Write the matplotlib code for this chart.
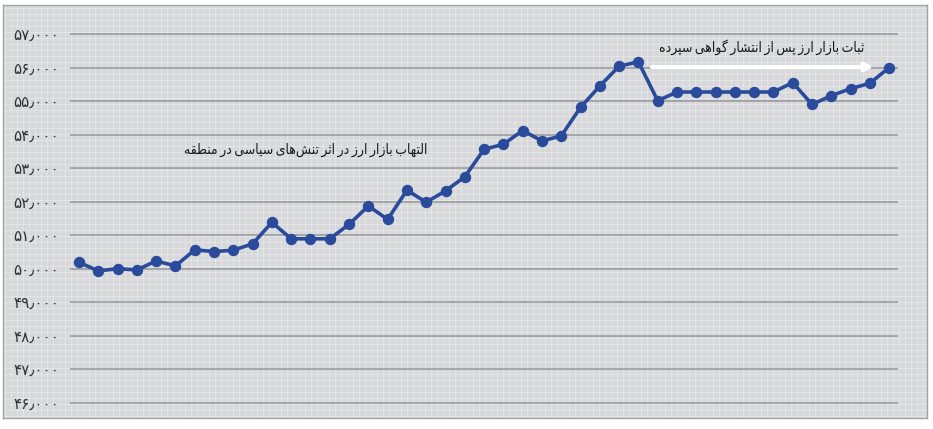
import matplotlib
matplotlib.use("Agg")
import matplotlib.pyplot as plt
import numpy as np

# ---------------- data ----------------
values = [50190, 49930, 50000, 49960, 50230, 50080, 50560, 50510, 50550, 50740,
          51380, 50890, 50890, 50890, 51320, 51870, 51470, 52340, 51980, 52320,
          52740, 53560, 53710, 54120, 53810, 53960, 54810, 55450, 56040, 56170,
          55010, 55270, 55270, 55270, 55270, 55270, 55270, 55550, 54900, 55160,
          55370, 55530, 56000]
y_ticks = [46000, 47000, 48000, 49000, 50000, 51000, 52000, 53000, 54000, 55000, 56000, 57000]
note_rise = "التهاب بازار ارز در اثر تنش‌های سیاسی در منطقه"
note_stable = "ثبات بازار ارز پس از انتشار گواهی سپرده"

# ---------------- simple Arabic/Persian shaping ----------------
FORMS = {  # iso, fin, ini, med
    'ا': (0xFE8D, 0xFE8E, None, None),
    'ب': (0xFE8F, 0xFE90, 0xFE91, 0xFE92),
    'ت': (0xFE95, 0xFE96, 0xFE97, 0xFE98),
    'ث': (0xFE99, 0xFE9A, 0xFE9B, 0xFE9C),
    'د': (0xFEA9, 0xFEAA, None, None),
    'ر': (0xFEAD, 0xFEAE, None, None),
    'ز': (0xFEAF, 0xFEB0, None, None),
    'س': (0xFEB1, 0xFEB2, 0xFEB3, 0xFEB4),
    'ش': (0xFEB5, 0xFEB6, 0xFEB7, 0xFEB8),
    'ط': (0xFEC1, 0xFEC2, 0xFEC3, 0xFEC4),
    'ق': (0xFED5, 0xFED6, 0xFED7, 0xFED8),
    'ل': (0xFEDD, 0xFEDE, 0xFEDF, 0xFEE0),
    'م': (0xFEE1, 0xFEE2, 0xFEE3, 0xFEE4),
    'ن': (0xFEE5, 0xFEE6, 0xFEE7, 0xFEE8),
    'ه': (0xFEE9, 0xFEEA, 0xFEEB, 0xFEEC),
    'و': (0xFEED, 0xFEEE, None, None),
    'پ': (0xFB56, 0xFB57, 0xFB58, 0xFB59),
    'گ': (0xFB92, 0xFB93, 0xFB94, 0xFB95),
    'ی': (0xFBFC, 0xFBFD, 0xFBFE, 0xFBFF),
}


def shape(text):
    out = []
    n = len(text)
    for i, c in enumerate(text):
        if c not in FORMS:
            if c == ' ':
                out.append('\u2009')
            elif c != '\u200c':
                out.append(c)
            continue
        iso, fin, ini, med = FORMS[c]
        prev = text[i - 1] if i > 0 else ''
        nxt = text[i + 1] if i + 1 < n else ''
        pj = prev in FORMS and FORMS[prev][2] is not None
        nj = ini is not None and nxt in FORMS
        if pj and nj:
            g = med
        elif pj:
            g = fin
        elif nj:
            g = ini
        else:
            g = iso
        out.append(chr(g))
    return ''.join(out)[::-1]


def fa_num(v):
    s = f"{v:,}"
    tr = str.maketrans("0123456789,", "۰۱۲۳۴۵۶۷۸۹٫")
    return s.translate(tr)


# ---------------- figure ----------------
W, H = 933, 429
fig = plt.figure(figsize=(W / 100, H / 100), dpi=100)
fig.patch.set_facecolor("white")

# background panel with fine grid texture
bg = fig.add_axes([3 / W, (H - 418) / H, 924 / W, 413 / H])
bg.set_facecolor("#d7d8da")
bg.set_xlim(0, 924)
bg.set_ylim(0, 413)
for xx in np.arange(2, 924, 6):
    bg.axvline(xx, color="white", lw=0.8, alpha=0.3)
for yy in np.arange(2, 413, 6):
    bg.axhline(yy, color="white", lw=0.8, alpha=0.3)
bg.set_xticks([])
bg.set_yticks([])
for s in bg.spines.values():
    s.set_color("#a3a4a6")
    s.set_linewidth(1.0)

# main chart axes
left_px, right_px, top_px, bot_px = 70, 898, 20, 415
ax = fig.add_axes([left_px / W, (H - bot_px) / H, (right_px - left_px) / W, (bot_px - top_px) / H])
ax.patch.set_alpha(0)

x = np.arange(len(values))
step = 19.29
ax.set_xlim(-(79 - left_px) / step, (right_px - 79) / step)
upp = 1000 / 33.5
ax.set_ylim(46000 - (bot_px - 402.7) * upp, 57000 + (34 - top_px) * upp)

ax.set_yticks(y_ticks)
ax.set_yticklabels([fa_num(v) for v in y_ticks], fontfamily="DejaVu Sans",
                   fontsize=11, color="#333333")
ax.tick_params(axis="y", length=0, pad=8)
ax.set_xticks([])
ax.grid(axis="y", color="#9c9da0", lw=1.2)
ax.set_axisbelow(True)
for s in ax.spines.values():
    s.set_visible(False)

ax.plot(x, values, color="#2a4b9b", lw=2.6, marker="o", markersize=7.2,
        markerfacecolor="#2a4b9b", markeredgecolor="#2a4b9b", clip_on=False, zorder=3)

# annotations
ax.text(11.74, 53540, shape(note_rise), fontfamily="DejaVu Sans", fontstretch="condensed",
        fontsize=10, ha="center", va="center", color="#1a1a1a")
ax.text(35.38, 56610, shape(note_stable), fontfamily="DejaVu Sans", fontstretch="condensed",
        fontsize=10, ha="center", va="center", color="#1a1a1a")
ax.annotate("", xy=(41.2, 56015), xytext=(29.7, 56015),
            arrowprops=dict(arrowstyle="-|>", color="white", lw=3, mutation_scale=12,
                            shrinkA=0, shrinkB=0))

fig.savefig("out.png", dpi=100, facecolor="white")
